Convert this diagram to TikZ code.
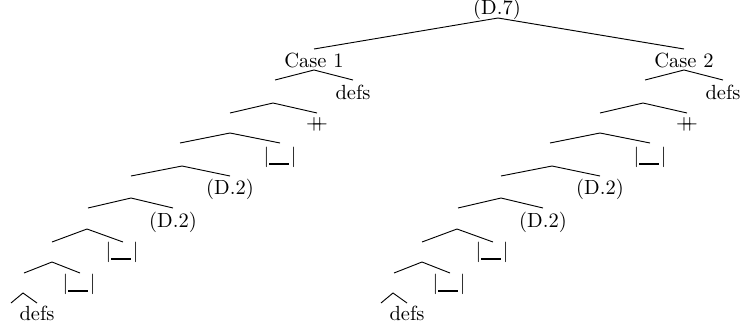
\documentclass[tikz,border=0pt]{standalone}
\newcommand\gapsym{$|$\rule[-1.5pt]{9.5pt}{1.2pt}\hspace{1pt}$|$}
\newcommand\catsym{$+\!\!\!+$}
\newcommand\drawchain[1]{%
  \coordinate (ct) at (314,49);
  \node[lbl] (case) at (314,60) {Case #1};
  \coordinate (a1) at (314,70); \coordinate (l1) at (275,80); \coordinate (r1) at (353,80);
  \node[lbl] (defsA) at (353,92) {defs};
  \coordinate (a2) at (273,103); \coordinate (l2) at (230,113); \coordinate (r2) at (317,113);
  \node[lbl] (cat) at (317,124) {\catsym};
  \coordinate (a3) at (230,133); \coordinate (l3) at (180,143); \coordinate (r3) at (280,143);
  \node[lbl] (gapA) at (280,157) {\gapsym};
  \coordinate (a4) at (182,166); \coordinate (l4) at (131,176); \coordinate (r4) at (230,176);
  \node[lbl] (dtwoA) at (230,189) {(D.2)};
  \coordinate (a5) at (131,198); \coordinate (l5) at (88,208); \coordinate (r5) at (173,208);
  \node[lbl] (dtwoB) at (173,222) {(D.2)};
  \coordinate (a6) at (87,229); \coordinate (l6) at (52,242); \coordinate (r6) at (123,242);
  \node[lbl] (gapB) at (122,252) {\gapsym};
  \coordinate (a7) at (52,262); \coordinate (l7) at (24,273); \coordinate (r7) at (80,273);
  \node[lbl] (gapC) at (79,284) {\gapsym};
  \coordinate (a8) at (23,293); \coordinate (l8) at (11,303); \coordinate (r8) at (37,303);
  \node[lbl] (defsB) at (37,313) {defs};
  \foreach \i in {1,...,8}{\draw[edge] (l\i) -- (a\i) -- (r\i);}
}
\begin{document}
\begin{tikzpicture}[x=0.488pt,y=-0.488pt,
  lbl/.style={inner sep=0pt},
  edge/.style={line width=0.45pt}]
\useasboundingbox (0,0) rectangle (742,328);
\node[lbl] (dseven) at (497,9) {(D.7)};
\coordinate (top) at (498,18);
\begin{scope}[name prefix=L-]
  \drawchain{1}
\end{scope}
\begin{scope}[shift={(370,0)},name prefix=R-]
  \drawchain{2}
\end{scope}
\draw[edge] (L-ct) -- (top) -- (R-ct);
\end{tikzpicture}
\end{document}
